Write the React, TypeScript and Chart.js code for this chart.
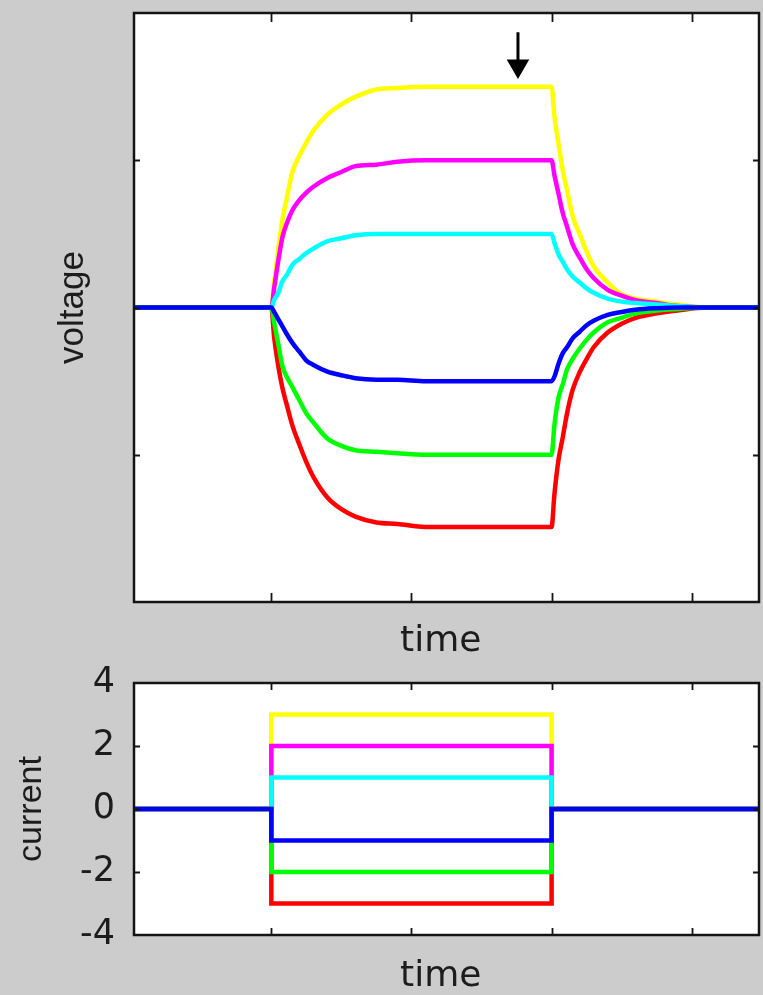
import React, { useEffect, useRef } from "react";
import { Chart, registerables } from "chart.js";

Chart.register(...registerables);

// ---- data ----
const timeSamples = [0, 100, 102, 105, 108, 111, 115, 120, 125, 130, 140, 150, 160, 175, 190, 210, 250, 300, 302, 305, 308, 311, 315, 320, 325, 330, 340, 350, 360, 375, 390, 410, 448];

const voltageYellow = [0, 0, 0.17, 0.4, 0.6, 0.74, 0.92, 1.03, 1.12, 1.2, 1.31, 1.38, 1.43, 1.48, 1.49, 1.5, 1.5, 1.5, 1.3, 1.11, 0.93, 0.8, 0.62, 0.5, 0.38, 0.28, 0.17, 0.09, 0.06, 0.04, 0.02, 0, 0];
const voltageMagenta = [0, 0, 0.13, 0.32, 0.48, 0.57, 0.66, 0.73, 0.78, 0.82, 0.88, 0.92, 0.96, 0.97, 0.99, 1.0, 1.0, 1.0, 0.9, 0.77, 0.64, 0.55, 0.43, 0.34, 0.26, 0.2, 0.12, 0.08, 0.05, 0.03, 0.01, 0, 0];
const voltageCyan = [0, 0, 0.05, 0.1, 0.18, 0.22, 0.29, 0.33, 0.37, 0.4, 0.45, 0.47, 0.49, 0.5, 0.5, 0.5, 0.5, 0.5, 0.44, 0.36, 0.31, 0.26, 0.21, 0.17, 0.13, 0.1, 0.06, 0.04, 0.03, 0.02, 0.01, 0, 0];
const voltageBlue = [0, 0, -0.03, -0.08, -0.13, -0.18, -0.24, -0.3, -0.36, -0.39, -0.435, -0.46, -0.48, -0.49, -0.49, -0.5, -0.5, -0.5, -0.47, -0.38, -0.31, -0.27, -0.21, -0.165, -0.12, -0.09, -0.05, -0.03, -0.015, -0.005, 0, 0, 0];
const voltageGreen = [0, 0, -0.1, -0.25, -0.4, -0.47, -0.54, -0.63, -0.72, -0.78, -0.89, -0.94, -0.97, -0.98, -0.99, -1.0, -1.0, -1.0, -0.8, -0.61, -0.52, -0.42, -0.35, -0.28, -0.22, -0.17, -0.1, -0.07, -0.04, -0.02, -0.01, 0, 0];
const voltageRed = [0, 0, -0.2, -0.4, -0.55, -0.66, -0.8, -0.93, -1.05, -1.15, -1.29, -1.37, -1.42, -1.46, -1.47, -1.49, -1.49, -1.49, -1.27, -1.03, -0.88, -0.72, -0.56, -0.44, -0.35, -0.27, -0.17, -0.11, -0.07, -0.04, -0.02, 0, 0];

const currentTimes = [0, 100, 100, 300, 300, 448];
const currentYellow = [0, 0, 3, 3, 0, 0];
const currentMagenta = [0, 0, 2, 2, 0, 0];
const currentCyan = [0, 0, 1, 1, 0, 0];
const currentBlue = [0, 0, -1, -1, 0, 0];
const currentGreen = [0, 0, -2, -2, 0, 0];
const currentRed = [0, 0, -3, -3, 0, 0];

const arrowTime = [276, 276];
const arrowVoltage = [1.87, 1.64];

const timeTicks = [100, 200, 300, 400];
const voltageTicks = [-1, 0, 1];
const currentTicks = [-4, -2, 0, 2, 4];

const COLORS = {
  yellow: "#ffff00",
  magenta: "#ff00ff",
  cyan: "#00ffff",
  blue: "#0000ff",
  green: "#00ff00",
  red: "#ff0000",
};

const toXY = (xs: number[], ys: number[]) => xs.map((x, i) => ({ x, y: ys[i] }));

const lineDs = (label: string, xs: number[], ys: number[], color: string, smooth = false) => ({
  label,
  data: toXY(xs, ys),
  borderColor: color,
  backgroundColor: color,
  borderWidth: 4.5,
  pointRadius: 0,
  tension: 0,
  cubicInterpolationMode: smooth ? ("monotone" as const) : ("default" as const),
  fill: false,
  borderJoinStyle: "miter" as const,
  borderCapStyle: "butt" as const,
});

const framePlugin = {
  id: "frame",
  beforeDraw(chart: any) {
    const { ctx, chartArea: a } = chart;
    ctx.save();
    ctx.fillStyle = "#ffffff";
    ctx.fillRect(a.left, a.top, a.right - a.left, a.bottom - a.top);
    ctx.restore();
  },
  afterDraw(chart: any, _args: any, opts: any) {
    const { ctx, chartArea: a, scales } = chart;
    ctx.save();
    ctx.strokeStyle = "#141414";
    ctx.lineWidth = 2.5;
    ctx.strokeRect(a.left, a.top, a.right - a.left, a.bottom - a.top);
    ctx.lineWidth = 1.8;
    ctx.beginPath();
    const xs = scales.x;
    for (const t of xs.ticks) {
      if (t.value <= xs.min || t.value >= xs.max) continue;
      const px = Math.round(xs.getPixelForValue(t.value)) + 0.5;
      ctx.moveTo(px, a.bottom);
      ctx.lineTo(px, a.bottom - opts.xLen);
      ctx.moveTo(px, a.top);
      ctx.lineTo(px, a.top + opts.xLen);
    }
    const ys = scales.y;
    for (const t of ys.ticks) {
      if (t.value <= ys.min || t.value >= ys.max) continue;
      const py = Math.round(ys.getPixelForValue(t.value)) + 0.5;
      ctx.moveTo(a.left, py);
      ctx.lineTo(a.left + opts.yLen, py);
      ctx.moveTo(a.right, py);
      ctx.lineTo(a.right - opts.yLen, py);
    }
    ctx.stroke();
    ctx.restore();
  },
};

const TEXT = "#1c1c1c";

const fixY = (s: any) => {
  s.width = 134;
  s.paddingTop = 0;
  s.paddingBottom = 0;
};
const fixX = (s: any) => {
  s.height = 60;
  s.paddingLeft = 0;
  s.paddingRight = 0;
};

export default function App() {
  const topRef = useRef<HTMLCanvasElement | null>(null);
  const botRef = useRef<HTMLCanvasElement | null>(null);

  useEffect(() => {
    if (!topRef.current || !botRef.current) return;

    const top = new Chart(topRef.current, {
      type: "line",
      data: {
        datasets: [
          {
            label: "arrow",
            data: toXY(arrowTime, arrowVoltage),
            borderColor: "#000000",
            backgroundColor: "#000000",
            borderWidth: 3,
            pointRadius: [0, 13],
            pointStyle: "triangle",
            pointRotation: 180,
            pointBorderWidth: 0,
            pointBackgroundColor: "#000000",
            tension: 0,
          } as any,
          lineDs("blue", timeSamples, voltageBlue, COLORS.blue, true),
          lineDs("green", timeSamples, voltageGreen, COLORS.green, true),
          lineDs("red", timeSamples, voltageRed, COLORS.red, true),
          lineDs("cyan", timeSamples, voltageCyan, COLORS.cyan, true),
          lineDs("magenta", timeSamples, voltageMagenta, COLORS.magenta, true),
          lineDs("yellow", timeSamples, voltageYellow, COLORS.yellow, true),
        ],
      },
      options: {
        animation: false,
        responsive: false,
        maintainAspectRatio: false,
        events: [],
        layout: { autoPadding: false, padding: { left: 0, right: 4, top: 13, bottom: 0 } },
        plugins: {
          legend: { display: false },
          tooltip: { enabled: false },
          frame: { xLen: 9, yLen: 6 },
        } as any,
        scales: {
          x: {
            type: "linear",
            min: 2,
            max: 448,
            afterBuildTicks: (s: any) => {
              s.ticks = timeTicks.map((v) => ({ value: v }));
            },
            afterFit: fixX,
            ticks: { display: false },
            grid: { display: false, drawTicks: false },
            border: { display: false },
            title: {
              display: true,
              text: "time ",
              color: TEXT,
              font: { family: "DejaVu Sans", size: 36, lineHeight: 1 },
              padding: { top: 0, bottom: 2 },
            },
          },
          y: {
            type: "linear",
            min: -2,
            max: 2,
            afterBuildTicks: (s: any) => {
              s.ticks = voltageTicks.map((v) => ({ value: v }));
            },
            afterFit: fixY,
            ticks: { display: false },
            grid: { display: false, drawTicks: false },
            border: { display: false },
            title: {
              display: true,
              text: "voltage",
              color: TEXT,
              font: { family: "Liberation Sans", size: 35, lineHeight: 1.2 },
              padding: { top: 52, bottom: 0 },
            },
          },
        },
      },
      plugins: [framePlugin],
    });

    const bottom = new Chart(botRef.current, {
      type: "line",
      data: {
        datasets: [
          lineDs("blue", currentTimes, currentBlue, COLORS.blue),
          lineDs("green", currentTimes, currentGreen, COLORS.green),
          lineDs("red", currentTimes, currentRed, COLORS.red),
          lineDs("cyan", currentTimes, currentCyan, COLORS.cyan),
          lineDs("magenta", currentTimes, currentMagenta, COLORS.magenta),
          lineDs("yellow", currentTimes, currentYellow, COLORS.yellow),
        ],
      },
      options: {
        animation: false,
        responsive: false,
        maintainAspectRatio: false,
        events: [],
        layout: { autoPadding: false, padding: { left: 0, right: 4, top: 21, bottom: 0 } },
        plugins: {
          legend: { display: false },
          tooltip: { enabled: false },
          frame: { xLen: 7, yLen: 6 },
        } as any,
        scales: {
          x: {
            type: "linear",
            min: 2,
            max: 448,
            afterBuildTicks: (s: any) => {
              s.ticks = timeTicks.map((v) => ({ value: v }));
            },
            afterFit: fixX,
            ticks: { display: false },
            grid: { display: false, drawTicks: false },
            border: { display: false },
            title: {
              display: true,
              text: "time ",
              color: TEXT,
              font: { family: "DejaVu Sans", size: 36, lineHeight: 1 },
              padding: { top: 0, bottom: 0 },
            },
          },
          y: {
            type: "linear",
            min: -4,
            max: 4,
            afterBuildTicks: (s: any) => {
              s.ticks = currentTicks.map((v) => ({ value: v }));
            },
            afterFit: fixY,
            ticks: {
              display: true,
              color: TEXT,
              padding: 19,
              font: { family: "DejaVu Sans", size: 35, lineHeight: 1 },
            },
            grid: { display: false, drawTicks: false },
            border: { display: false },
            title: {
              display: true,
              text: "current",
              color: TEXT,
              font: { family: "Liberation Sans", size: 34, lineHeight: 1.2 },
              padding: { top: 11, bottom: 0 },
            },
          },
        },
      },
      plugins: [framePlugin],
    });

    return () => {
      top.destroy();
      bottom.destroy();
    };
  }, []);

  return (
    <div
      style={{
        position: "absolute",
        left: 0,
        top: 0,
        width: 763,
        height: 995,
        background: "#cccccc",
        overflow: "hidden",
      }}
    >
      <canvas ref={topRef} width={763} height={662} style={{ display: "block", width: 763, height: 662 }} />
      <canvas ref={botRef} width={763} height={333} style={{ display: "block", width: 763, height: 333 }} />
    </div>
  );
}
